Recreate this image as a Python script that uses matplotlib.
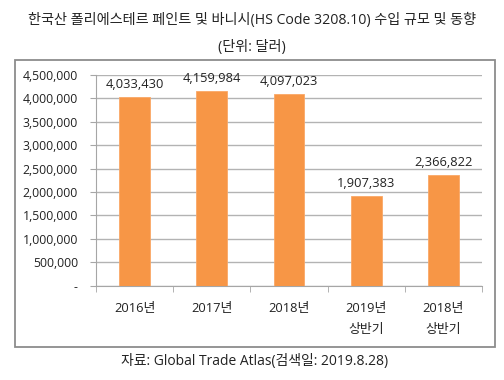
import numpy as np
import matplotlib.pyplot as plt
from matplotlib.patches import Rectangle
from matplotlib.ticker import FuncFormatter

plt.rcParams['font.family'] = ['Open Sans', 'Noto Sans CJK KR', 'DejaVu Sans']

# 데이터
cats = ['2016년', '2017년', '2018년', '2019년\n상반기', '2018년\n상반기']
vals = [4033430, 4159984, 4097023, 1907383, 2366822]
yticks = np.arange(0, 4500001, 500000)

fig = plt.figure(figsize=(5.04, 3.80), dpi=100)
fig.patch.set_facecolor('white')

# 차트 영역 테두리
fig.patches.append(Rectangle((0.030, 0.087), 0.952, 0.755, transform=fig.transFigure,
                             fill=False, edgecolor='#8c8c8c', linewidth=1.3))

fig.text(0.5, 0.945, '한국산 폴리에스테르 페인트 및 바니시(HS Code 3208.10) 수입 규모 및 동향',
         ha='center', va='center', fontsize=10.2, color='#222222')
fig.text(0.5, 0.876, '(단위: 달러)', ha='center', va='center', fontsize=10.2, color='#222222')
fig.text(0.505, 0.048, '자료: Global Trade Atlas(검색일: 2019.8.28)',
         ha='center', va='center', fontsize=10, color='#222222')

ax = fig.add_axes([0.1905, 0.248, 0.766, 0.555])
x = np.arange(len(cats))
ax.bar(x, vals, width=0.4, color='#F79646', edgecolor='#FAA867', linewidth=0.6, zorder=3)
for xi, v in zip(x, vals):
    ax.text(xi, v + 130000, f'{v:,}', ha='center', va='bottom', fontsize=9.3, color='#222222')

ax.set_xlim(-0.5, len(cats) - 0.5)
ax.set_ylim(0, 4500000)
ax.set_yticks(yticks)
ax.yaxis.set_major_formatter(FuncFormatter(lambda v, p: '-' if v == 0 else f'{int(v):,}'))
ax.set_xticks(x)
ax.set_xticklabels(cats, fontsize=9.3, color='#222222', linespacing=1.8)
ax.set_xticks(np.arange(-0.5, len(cats)), minor=True)
ax.tick_params(axis='x', which='major', length=0, pad=12)
ax.tick_params(axis='x', which='minor', length=4, color='#a6a6a6', direction='out')
ax.tick_params(axis='y', labelsize=8.8, labelcolor='#222222', length=4, color='#a6a6a6', pad=9)
ax.grid(axis='y', color='#b3b3b3', linewidth=1.0, zorder=0)
for s in ['top', 'right']:
    ax.spines[s].set_visible(False)
ax.spines['left'].set_color('#a6a6a6')
ax.spines['bottom'].set_color('#a6a6a6')

plt.savefig('out.png', dpi=100)
